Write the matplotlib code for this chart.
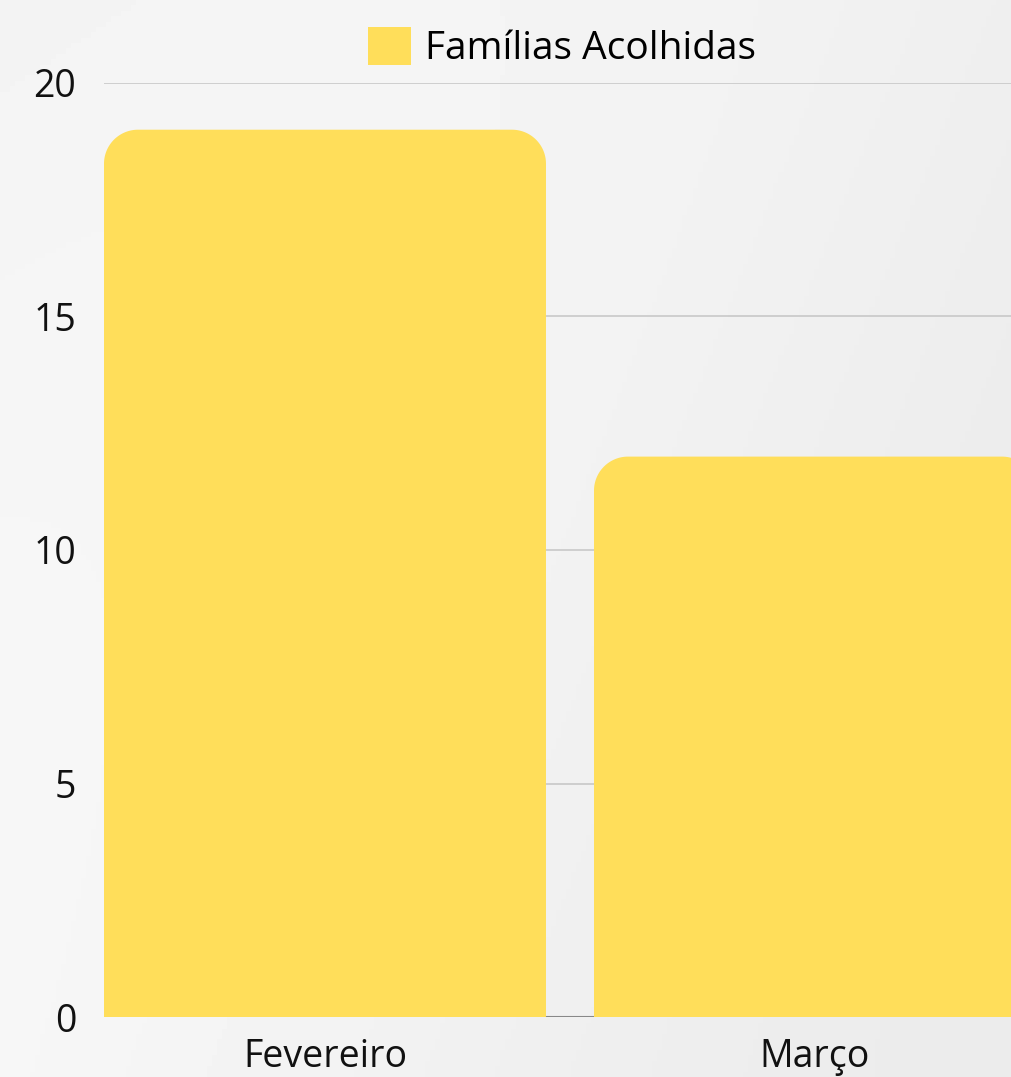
import matplotlib.pyplot as plt
import numpy as np
from matplotlib.patches import Polygon, Patch

plt.rcParams['font.family'] = ['Open Sans', 'DejaVu Sans']

meses = ['Fevereiro', 'Março']
familias = [19, 12]
yticks = [0, 5, 10, 15, 20]
serie = 'Famílias Acolhidas'
cor = '#FFDE5A'

W, H = 1011, 1077
fig = plt.figure(figsize=(W / 100, H / 100), dpi=100)

# fundo cinza claro com leve degrade
bg = fig.add_axes([0, 0, 1, 1], zorder=-10)
gx, gy = np.meshgrid(np.linspace(0, 1, 200), np.linspace(0, 1, 200))
grad = 0.955 - 0.02 * gx + 0.012 * np.sin(3 * gx + 2 * gy)
bg.imshow(grad, cmap='gray', vmin=0, vmax=1, extent=[0, 1, 0, 1], aspect='auto')
bg.axis('off')

left, right, top, bottom = 104, 1011, 83, 1017
ax = fig.add_axes([left / W, 1 - bottom / H, (right - left) / W, (bottom - top) / H])
ax.patch.set_alpha(0)

x = np.arange(len(meses))
largura = 0.902
ax.set_xlim(-0.451, 1.4)
ax.set_ylim(0, 20)

# cantos superiores arredondados (arco circular em pixels)
px_x = (right - left) / (1.4 + 0.451)
px_y = (bottom - top) / 20
raio_px = 34
rx, ry = raio_px / px_x, raio_px / px_y
t = np.linspace(0, np.pi / 2, 30)

for xi, v in zip(x, familias):
    x0, x1 = xi - largura / 2, xi + largura / 2
    dir_x = x1 - rx + rx * np.cos(t)
    dir_y = v - ry + ry * np.sin(t)
    esq_x = x0 + rx - rx * np.cos(t[::-1])
    esq_y = v - ry + ry * np.sin(t[::-1])
    pts = np.column_stack([
        np.concatenate([[x0, x1], dir_x, esq_x]),
        np.concatenate([[0, 0], dir_y, esq_y]),
    ])
    ax.add_patch(Polygon(pts, closed=True, facecolor=cor, edgecolor='none', zorder=3))

ax.set_yticks(yticks)
ax.set_xticks(x)
ax.set_xticklabels(meses)
ax.yaxis.grid(True, color='#c8c8c8', linewidth=1.2, zorder=0)
ax.set_axisbelow(True)
ax.axhline(0, color='#888888', linewidth=1.5, zorder=1)
for s in ax.spines.values():
    s.set_visible(False)
ax.tick_params(axis='both', length=0, labelsize=27, colors='#111111')
ax.tick_params(axis='y', pad=20)
ax.tick_params(axis='x', pad=15)

fig.legend(handles=[Patch(facecolor=cor, edgecolor='none')], labels=[serie],
           loc='upper center', bbox_to_anchor=(0.556, 1.0), frameon=False,
           fontsize=28, handlelength=1.1, handleheight=1.1, handletextpad=0.35,
           borderaxespad=0.3)

fig.savefig('out.png', dpi=100)
